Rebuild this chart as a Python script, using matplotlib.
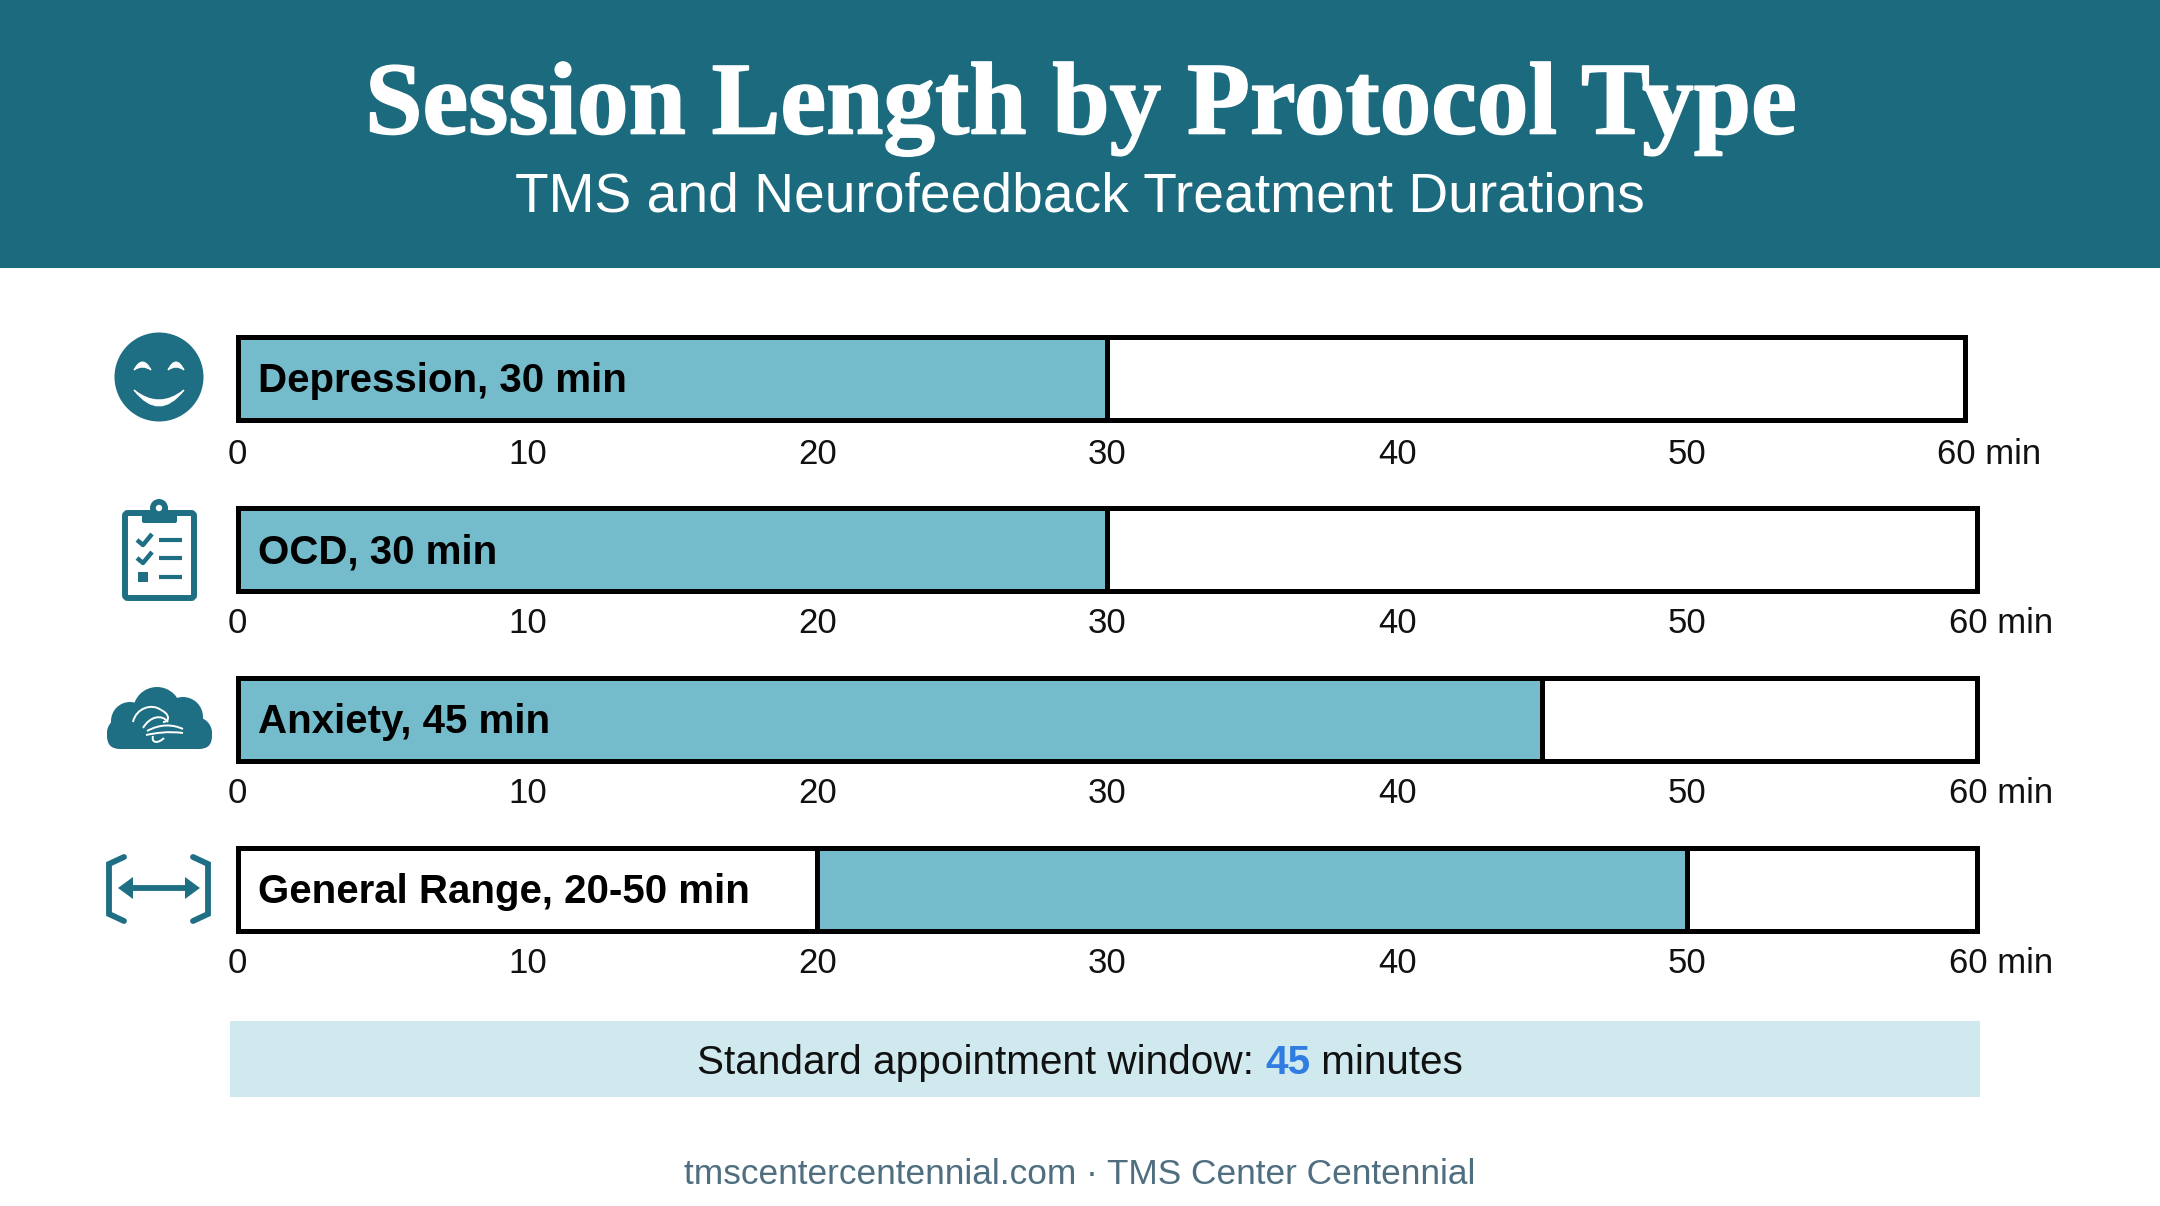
import numpy as np
import matplotlib
matplotlib.use("Agg")
import matplotlib.pyplot as plt
import matplotlib.patheffects as pe
from matplotlib.patches import Circle, Rectangle, FancyBboxPatch, Polygon, PathPatch
from matplotlib.path import Path

W, H = 2160, 1206

# chart data
labels = ["Depression, 30 min", "OCD, 30 min", "Anxiety, 45 min", "General Range, 20-50 min"]
starts = [0, 0, 0, 20]
ends = [30, 30, 45, 50]
ticks = [0, 10, 20, 30, 40, 50]
tick_labels = ["0", "10", "20", "30", "40", "50"]
last_tick_label = "60 min"

# row geometry in pixels (the first frame stops a bit short in the source)
frame_end = [59.6, 60, 60, 60]
last_label_x = [60.42, 60.84, 60.84, 60.84]
frame_top = [336.5, 508.5, 677.5, 847.5]
frame_bottom = [419.5, 590.5, 760.5, 930.5]
tick_pad = [13.5, 12, 12, 12]

TEAL = "#1b6a7e"
ICON = "#1f6f84"
BAR = "#74bccb"
BAND = "#d0e9ee"
BLUE = "#2f7de1"
FOOT = "#4f6f80"
LW = 3.6
X0 = 237.5
PX_PER_MIN = 28.99

plt.rcParams["font.family"] = ["Liberation Sans", "DejaVu Sans"]


def crescent(ax, x0, x1, y, outer, inner):
    # closed shape between two quadratic curves, used for the smiley
    mid = (x0 + x1) / 2
    verts = [(x0, y), (mid, outer), (x1, y), (mid, inner), (x0, y)]
    codes = [Path.MOVETO, Path.CURVE3, Path.CURVE3, Path.CURVE3, Path.CURVE3]
    ax.add_patch(PathPatch(Path(verts, codes), fc="white", ec="white", lw=0.8))


fig = plt.figure(figsize=(W / 100, H / 100), dpi=100, facecolor="white")
bg = fig.add_axes([0, 0, 1, 1])
bg.set_xlim(0, W)
bg.set_ylim(H, 0)
bg.axis("off")

# header
bg.add_patch(Rectangle((0, 0), W, 268, color=TEAL, lw=0))
bg.text(1080, 109, "Session Length by Protocol Type", color="white", fontsize=74.2,
        family="Liberation Serif", fontweight="bold", ha="center", va="center",
        path_effects=[pe.withStroke(linewidth=1.2, foreground="white")])
bg.text(1080, 197, "TMS and Neurofeedback Treatment Durations", color="white",
        fontsize=39.7, ha="center", va="center")

# bars
for i, label in enumerate(labels):
    left = X0 / W
    width = frame_end[i] * PX_PER_MIN / W
    bottom = 1 - frame_bottom[i] / H
    height = (frame_bottom[i] - frame_top[i]) / H
    ax = fig.add_axes([left, bottom, width, height])
    ax.set_xlim(0, frame_end[i])
    ax.set_ylim(-0.5, 0.5)
    ax.barh(0, ends[i] - starts[i], left=starts[i], height=1, color=BAR,
            edgecolor="black", linewidth=LW)
    for side in ax.spines.values():
        side.set_linewidth(LW)
        side.set_color("black")
    ax.set_yticks([])
    ax.set_xticks(ticks)
    ax.set_xticklabels(tick_labels, fontsize=25, color="#111111")
    ax.tick_params(axis="x", length=0, pad=tick_pad[i])
    ax.text(0.72, -0.165, label, fontsize=29, fontweight="bold", color="black",
            ha="left", va="baseline")
    ax.annotate(last_tick_label, xy=(last_label_x[i], 0), xycoords=ax.get_xaxis_transform(),
                xytext=(0, -tick_pad[i]), textcoords="offset points", fontsize=25,
                color="#111111", ha="center", va="top", annotation_clip=False)

# smiley
bg.add_patch(Circle((159, 377), 44.5, color=ICON, lw=0))
crescent(bg, 134, 151, 370, 354, 364)
crescent(bg, 168, 184, 370, 354, 364)
crescent(bg, 134, 184, 390, 422, 410)

# clipboard
bg.add_patch(FancyBboxPatch((125, 513), 69, 85, boxstyle="round,pad=0,rounding_size=3",
                            fc="white", ec=ICON, lw=4.3))
bg.add_patch(Circle((159, 508), 9, color=ICON, lw=0))
bg.add_patch(FancyBboxPatch((142, 511), 35, 12, boxstyle="round,pad=0,rounding_size=2",
                            fc=ICON, ec="none"))
bg.add_patch(Circle((159, 508), 3.2, color="white", lw=0))
for y in (540, 558):
    bg.plot([137, 143, 152], [y, y + 5, y - 6], color=ICON, lw=3.2, solid_capstyle="butt")
bg.add_patch(Rectangle((138, 572), 10, 10, color=ICON, lw=0))
for y in (540, 558, 577):
    bg.plot([159, 182], [y, y], color=ICON, lw=3, solid_capstyle="butt")

# cloud with brain squiggle
for cx, cy, r in [(157, 711, 24), (130, 721, 19), (183, 717, 20), (123, 733, 16), (196, 733, 16)]:
    bg.add_patch(Circle((cx, cy), r, color=ICON, lw=0))
bg.add_patch(FancyBboxPatch((107, 722), 105, 27, boxstyle="round,pad=0,rounding_size=13",
                            fc=ICON, ec="none"))
bg.add_patch(Rectangle((125, 715), 70, 20, color=ICON, lw=0))
squiggles = [
    [(133, 722), (136, 708), (152, 703), (161, 710)],
    [(161, 710), (170, 714), (170, 722), (163, 722)],
    [(143, 728), (150, 716), (162, 714), (168, 722)],
    [(147, 731), (160, 724), (172, 724), (183, 729)],
    [(146, 735), (156, 733), (168, 731), (183, 733)],
    [(153, 736), (151, 743), (158, 744), (164, 738)],
]
for pts in squiggles:
    path = Path(pts, [Path.MOVETO, Path.CURVE4, Path.CURVE4, Path.CURVE4])
    bg.add_patch(PathPatch(path, fc="none", ec="white", lw=1.4))

# range brackets and arrow
for px in ([124, 109, 109, 124], [193, 208, 208, 193]):
    bg.plot(px, [857, 864, 914, 921], color=ICON, lw=4.2, solid_joinstyle="miter", solid_capstyle="round")
bg.plot([126, 192], [888, 888], color=ICON, lw=4.2, solid_capstyle="butt")
bg.add_patch(Polygon([(118, 888), (133, 877), (133, 899)], color=ICON, lw=0))
bg.add_patch(Polygon([(200, 888), (185, 877), (185, 899)], color=ICON, lw=0))

# callout band
bg.add_patch(Rectangle((230, 1021), 1750, 76, color=BAND, lw=0))
t1 = bg.text(697, 1059, "Standard appointment window: ", fontsize=29.2, color="#111111",
             ha="left", va="center_baseline")
t2 = bg.annotate("45", xy=(1, 0), xycoords=t1, fontsize=29.2, fontweight="bold", color=BLUE,
                 ha="left", va="bottom")
bg.annotate(" minutes", xy=(1, 0), xycoords=t2, fontsize=29.2, color="#111111", ha="left", va="bottom")

# footer
bg.text(1080, 1175, "tmscentercentennial.com · TMS Center Centennial", fontsize=25.4,
        color=FOOT, ha="center", va="center")

fig.savefig("out.png", dpi=100)
